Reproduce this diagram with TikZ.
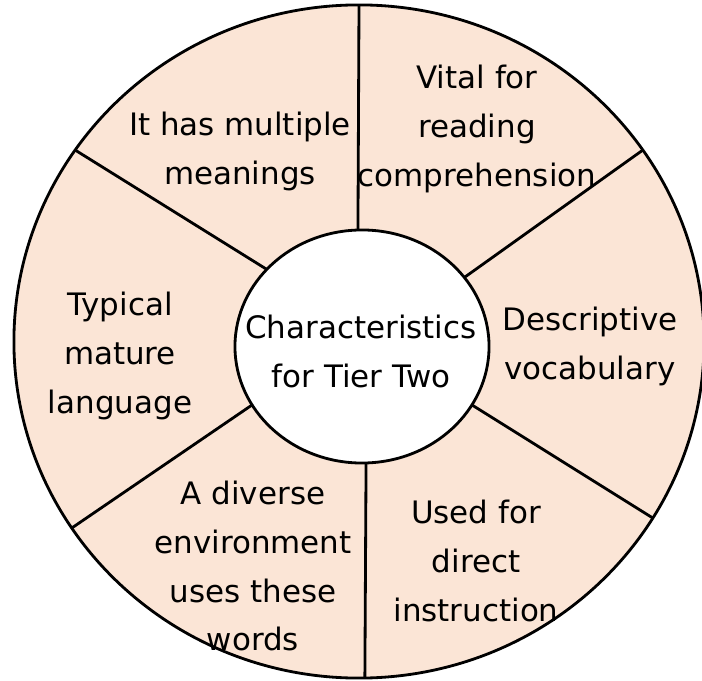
\documentclass[tikz,border=0pt]{standalone}
\usepackage{fontspec}
\setmainfont{DejaVu Sans}
\usetikzlibrary{shapes.geometric}
\definecolor{peach}{HTML}{FBE5D6}
\tikzstyle{rim} = [ellipse, draw=black, fill=peach, line width=2pt, inner sep=0pt, outer sep=0pt, minimum width=17.25cm, minimum height=16.825cm]
\tikzstyle{hub} = [ellipse, draw=black, fill=white, line width=2pt, inner sep=0pt, outer sep=0pt, minimum width=6.35cm, minimum height=5.825cm]
\tikzstyle{sector} = [text centered, inner sep=0pt, font=\fontsize{22}{34.7}\selectfont]
\tikzstyle{spoke} = [line width=2pt]

\begin{document}
\begin{tikzpicture}[x=0.025cm, y=-0.025cm]
	\useasboundingbox (0,0) rectangle (702,681);
	\node (rim) [rim] at (359,341.5) {};
	\node (hub) [hub] at (362,346.5) {};

	\draw [spoke] (hub.92) -- (rim.90);
	\draw [spoke] (hub.34) -- (rim.34);
	\draw [spoke] (hub.-28) -- (rim.-31);
	\draw [spoke] (hub.-88) -- (rim.-89);
	\draw [spoke] (hub.208) -- (rim.213);
	\draw [spoke] (hub.141) -- (rim.146);

	\node (title) [sector] at (361,353) {\begin{tabular}{c}Characteristics\\for Tier Two\end{tabular}};
	\node (multi) [sector] at (240,150) {\begin{tabular}{c}It has multiple\\meanings\end{tabular}};
	\node (vital) [sector] at (477,128) {\begin{tabular}{c}Vital for\\reading\\comprehension\end{tabular}};
	\node (descr) [sector] at (590,345) {\begin{tabular}{c}Descriptive\\vocabulary\end{tabular}};
	\node (used) [sector] at (476,563) {\begin{tabular}{c}Used for\\direct\\instruction\end{tabular}};
	\node (diverse) [sector] at (253,568) {\begin{tabular}{c}A diverse\\environment\\uses these\\words\end{tabular}};
	\node (typical) [sector] at (120,355) {\begin{tabular}{c}Typical\\mature\\language\end{tabular}};
\end{tikzpicture}
\end{document}
